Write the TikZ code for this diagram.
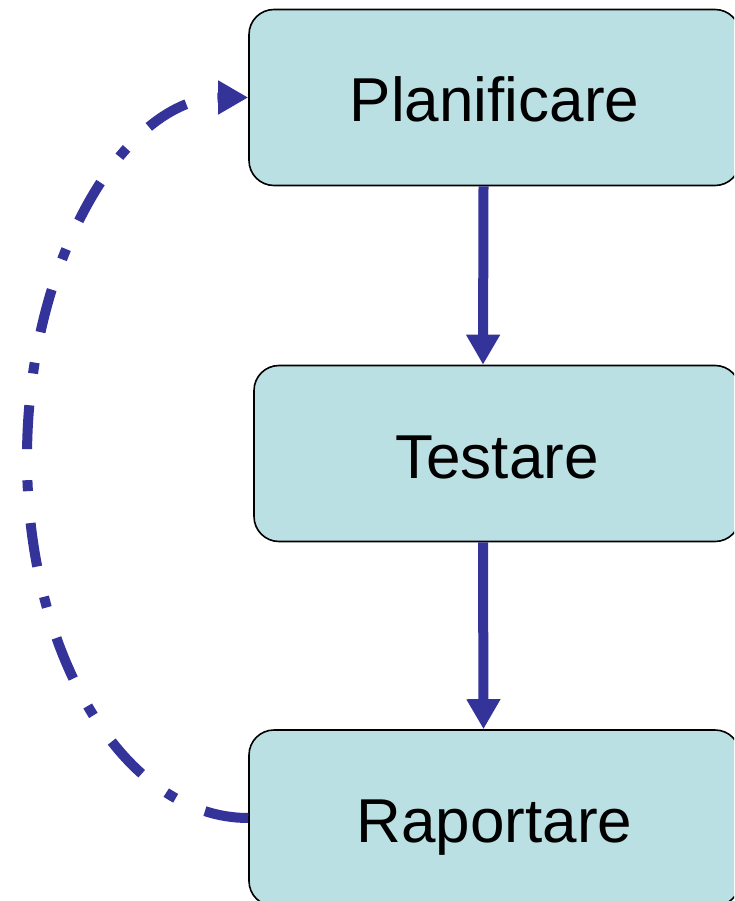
\documentclass[tikz,border=0pt]{standalone}
\usepackage{fontspec}
\setmainfont{Liberation Sans}
\usetikzlibrary{arrows.meta}
\definecolor{boxfill}{HTML}{BBE0E3}
\definecolor{arrowblue}{HTML}{333399}
\begin{document}
\begin{tikzpicture}[x=1pt,y=-1pt,
  stepbox/.style={draw=black, line width=1.6pt, fill=boxfill, rounded corners=25pt,
    minimum width=491pt, minimum height=176pt, inner sep=0pt,
    text height=49pt, text depth=0pt,
    font=\fontsize{62}{74}\selectfont},
  flow/.style={draw=arrowblue, line width=10pt, -{Triangle[width=32pt,length=30pt]}},
  loopback/.style={draw=arrowblue, line width=10pt, dash pattern=on 44pt off 32pt on 11pt off 31pt,
    -{Triangle[width=32pt,length=30pt]}}]
\useasboundingbox (0,0) rectangle (734,901);
\clip (0,0) rectangle (734,901);
\node[stepbox] (P) at (494.5,97.5) {Planificare};
\node[stepbox, minimum width=486pt] (T) at (497,453.5) {Testare};
\node[stepbox] (R) at (494.5,818) {Raportare};
\coordinate (L) at (27,458);
\draw[flow] ([xshift=-11pt]P.south) -- ([xshift=-14pt]T.north);
\draw[flow] ([xshift=-14pt]T.south) -- ([xshift=-11pt]R.north);
\draw[loopback] (R.west) .. controls +(-122.6,0) and +(0,198.8) .. (L)
  .. controls +(0,-198.8) and +(-122.6,0) .. (P.west);
\end{tikzpicture}
\end{document}
